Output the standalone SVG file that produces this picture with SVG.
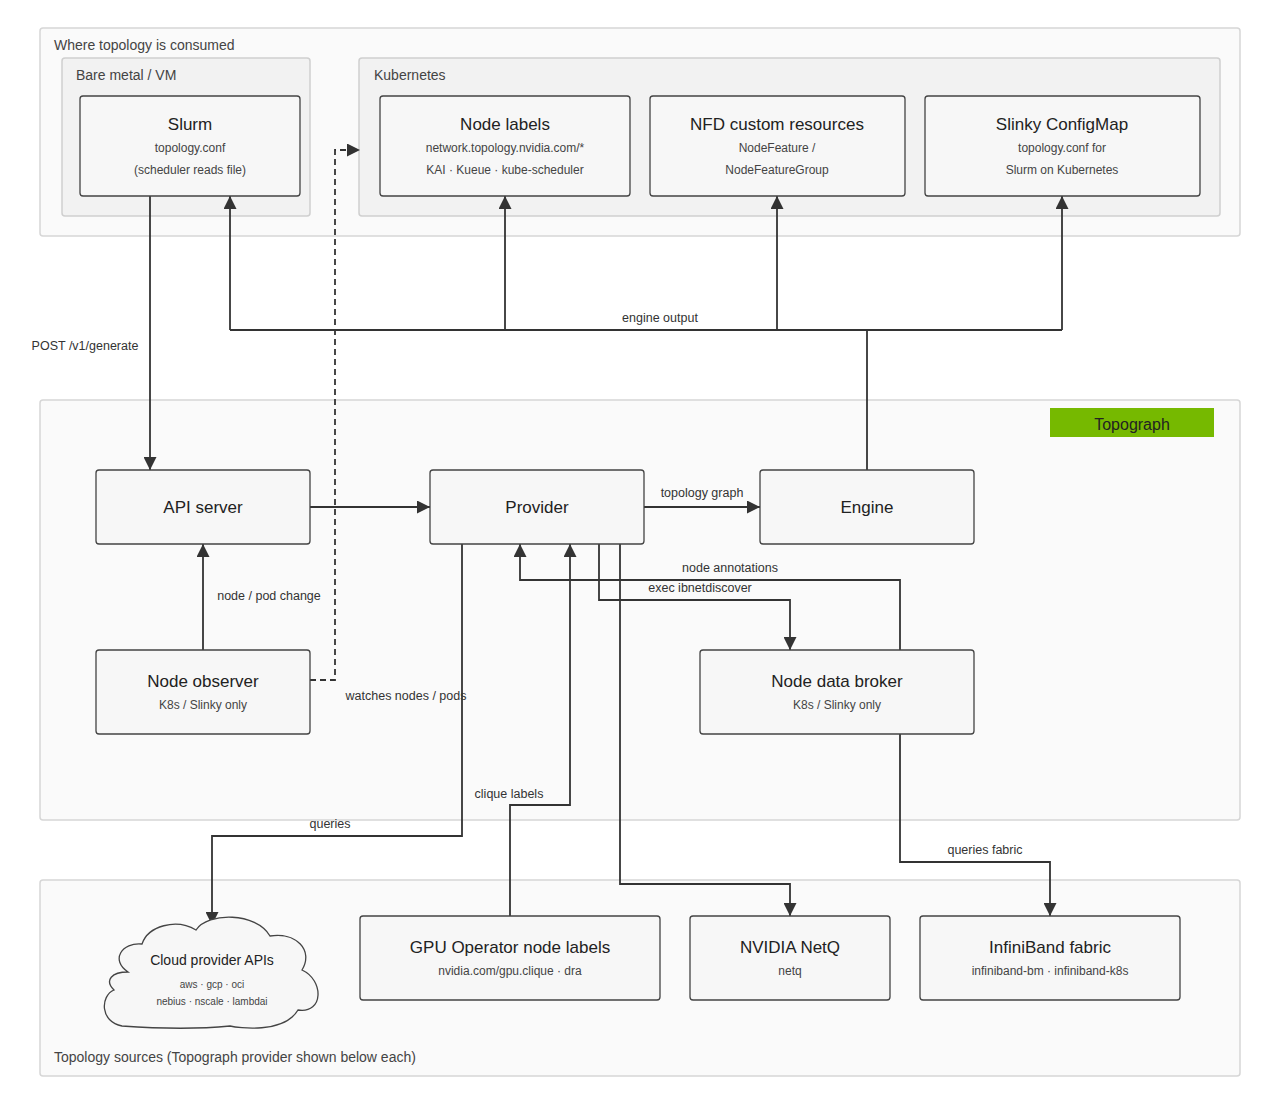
<svg xmlns="http://www.w3.org/2000/svg" width="1280" height="1110" viewBox="0 0 1280 1110">
<defs>
<marker id="a" viewBox="0 0 10 10" refX="10" refY="5" markerWidth="16" markerHeight="13" markerUnits="userSpaceOnUse" orient="auto"><path d="M0,0L10,5L0,10z" fill="#333"/></marker>
<style>
text{font-family:"Liberation Sans",Arial,sans-serif;fill:#222}
.cl{fill:#fafafa;stroke:#d6d6d6;stroke-width:1.5}
.sc{fill:#f2f2f2;stroke:#cfcfcf;stroke-width:1.5}
.n{fill:#f7f7f7;stroke:#444;stroke-width:1.3}
.t{font-size:17px;text-anchor:middle}
.s{font-size:12px;text-anchor:middle;fill:#444}
.cla{font-size:14px;fill:#444}
.el{font-size:12.5px;fill:#333;text-anchor:middle}
.e{fill:none;stroke:#333;stroke-width:1.8}
</style>
</defs>
<rect width="1280" height="1110" fill="#fff"/>
<g id="clusters">
<rect class="cl" x="40" y="28" width="1200" height="208" rx="3"/>
<text class="cla" x="54" y="50">Where topology is consumed</text>
<rect class="sc" x="62" y="58" width="248" height="158" rx="3"/>
<text class="cla" x="76" y="80">Bare metal / VM</text>
<rect class="sc" x="359" y="58" width="861" height="158" rx="3"/>
<text class="cla" x="374" y="80">Kubernetes</text>
<rect class="cl" x="40" y="400" width="1200" height="420" rx="3"/>
<rect x="1050" y="408" width="164" height="29" fill="#76b900"/>
<text x="1132" y="430" class="t" style="font-size:16px">Topograph</text>
<rect class="cl" x="40" y="880" width="1200" height="196" rx="3"/>
<text class="cla" x="54" y="1062">Topology sources (Topograph provider shown below each)</text>
</g>
<g id="edges">
<path class="e" d="M150,196V470" marker-end="url(#a)"/>
<text class="el" x="85" y="350">POST /v1/generate</text>
<path class="e" d="M867,470V330" />
<path class="e" d="M230,330H1062"/>
<path class="e" d="M230,330V196" marker-end="url(#a)"/>
<path class="e" d="M505,330V196" marker-end="url(#a)"/>
<path class="e" d="M777,330V196" marker-end="url(#a)"/>
<path class="e" d="M1062,330V196" marker-end="url(#a)"/>
<text class="el" x="660" y="322">engine output</text>
<path class="e" d="M310,680H335V150H360" stroke-dasharray="6,4" stroke-width="1.6" marker-end="url(#a)"/>
<text class="el" x="406" y="700">watches nodes / pods</text>
<path class="e" d="M203,650V544" marker-end="url(#a)"/>
<text class="el" x="269" y="600">node / pod change</text>
<path class="e" d="M310,507H430" marker-end="url(#a)"/>
<path class="e" d="M644,507H760" marker-end="url(#a)"/>
<text class="el" x="702" y="497">topology graph</text>
<path class="e" d="M462,544V836H212V925" marker-end="url(#a)"/>
<text class="el" x="330" y="828">queries</text>
<path class="e" d="M510,916V805H570V544" marker-end="url(#a)"/>
<text class="el" x="509" y="798">clique labels</text>
<path class="e" d="M620,544V884H790V916" marker-end="url(#a)"/>
<path class="e" d="M599,544V600H790V650" marker-end="url(#a)"/>
<text class="el" x="700" y="592">exec ibnetdiscover</text>
<path class="e" d="M900,650V580H520V544" marker-end="url(#a)"/>
<text class="el" x="730" y="572">node annotations</text>
<path class="e" d="M900,734V862H1050V916" marker-end="url(#a)"/>
<text class="el" x="985" y="854">queries fabric</text>
</g>
<g id="slurm"><rect class="n" x="80" y="96" width="220" height="100" rx="3"/><text class="t" x="190" y="130">Slurm</text><text class="s" x="190" y="152">topology.conf</text><text class="s" x="190" y="174">(scheduler reads file)</text></g>
<g id="nodelabels"><rect class="n" x="380" y="96" width="250" height="100" rx="3"/><text class="t" x="505" y="130">Node labels</text><text class="s" x="505" y="152">network.topology.nvidia.com/*</text><text class="s" x="505" y="174">KAI · Kueue · kube-scheduler</text></g>
<g id="nfd"><rect class="n" x="650" y="96" width="255" height="100" rx="3"/><text class="t" x="777" y="130">NFD custom resources</text><text class="s" x="777" y="152">NodeFeature /</text><text class="s" x="777" y="174">NodeFeatureGroup</text></g>
<g id="slinky"><rect class="n" x="925" y="96" width="275" height="100" rx="3"/><text class="t" x="1062" y="130">Slinky ConfigMap</text><text class="s" x="1062" y="152">topology.conf for</text><text class="s" x="1062" y="174">Slurm on Kubernetes</text></g>
<g id="api"><rect class="n" x="96" y="470" width="214" height="74" rx="3"/><text class="t" x="203" y="513">API server</text></g>
<g id="provider"><rect class="n" x="430" y="470" width="214" height="74" rx="3"/><text class="t" x="537" y="513">Provider</text></g>
<g id="engine"><rect class="n" x="760" y="470" width="214" height="74" rx="3"/><text class="t" x="867" y="513">Engine</text></g>
<g id="observer"><rect class="n" x="96" y="650" width="214" height="84" rx="3"/><text class="t" x="203" y="687">Node observer</text><text class="s" x="203" y="709">K8s / Slinky only</text></g>
<g id="broker"><rect class="n" x="700" y="650" width="274" height="84" rx="3"/><text class="t" x="837" y="687">Node data broker</text><text class="s" x="837" y="709">K8s / Slinky only</text></g>
<g id="cloud"><path class="n" d="M128,972C110,960 122,942 142,944C148,926 176,918 196,930C208,912 256,912 270,936C296,932 314,950 302,970C324,980 324,1014 298,1010C284,1034 238,1028 230,1026C190,1030 150,1028 122,1026C100,1022 100,996 114,990C104,980 112,972 128,972Z"/><text class="t" x="212" y="965" style="font-size:14px">Cloud provider APIs</text><text class="s" x="212" y="988" style="font-size:10px">aws · gcp · oci</text><text class="s" x="212" y="1005" style="font-size:10px">nebius · nscale · lambdai</text></g>
<g id="gpu"><rect class="n" x="360" y="916" width="300" height="84" rx="3"/><text class="t" x="510" y="953">GPU Operator node labels</text><text class="s" x="510" y="975">nvidia.com/gpu.clique · dra</text></g>
<g id="netq"><rect class="n" x="690" y="916" width="200" height="84" rx="3"/><text class="t" x="790" y="953">NVIDIA NetQ</text><text class="s" x="790" y="975">netq</text></g>
<g id="ib"><rect class="n" x="920" y="916" width="260" height="84" rx="3"/><text class="t" x="1050" y="953">InfiniBand fabric</text><text class="s" x="1050" y="975">infiniband-bm · infiniband-k8s</text></g>
</svg>
